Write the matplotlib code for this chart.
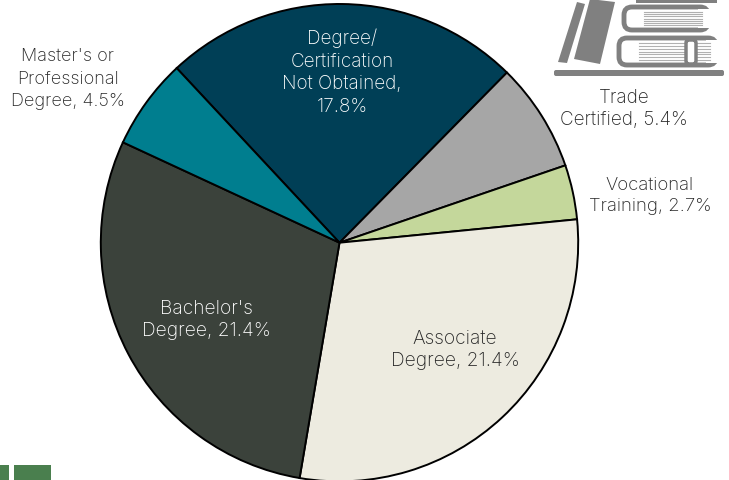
import matplotlib
matplotlib.use("Agg")
import matplotlib.pyplot as plt
from matplotlib.patches import Rectangle, FancyBboxPatch, Polygon

categories = ["Degree/\nCertification\nNot Obtained,", "Trade\nCertified,", "Vocational\nTraining,",
              "Associate\nDegree,", "Bachelor's\nDegree,", "Master's or\nProfessional\nDegree,"]
values = [17.8, 5.4, 2.7, 21.4, 21.4, 4.5]
value_breaks = ["\n", " ", " ", " ", " ", " "]
colors = ["#003F56", "#A6A6A6", "#C4D79B", "#EDEBE0", "#3B423B", "#007E8F"]
text_colors = ["#FFFFFF", "#262626", "#262626", "#262626", "#FFFFFF", "#262626"]
label_xy = [(342, 72), (624, 109), (650, 196), (455, 350), (206, 320), (68, 79)]
label_sizes = [13.6, 13.6, 13.4, 13.8, 13.8, 13.0]

plt.rcParams["font.family"] = ["Inter", "DejaVu Sans"]
fig = plt.figure(figsize=(7.29, 4.81), dpi=100)
ax = fig.add_axes([0, 0, 1, 1])
H = 481
ax.pie(values, colors=colors, center=(339.5, H - 243.7), radius=238.7, startangle=133, counterclock=False,
       wedgeprops=dict(edgecolor="black", linewidth=1.4), frame=True)
ax.set_aspect("equal")
ax.set_xlim(0, 729)
ax.set_ylim(0, H)
ax.axis("off")

for cat, v, brk, tc, (x, y), fs in zip(categories, values, value_breaks, text_colors, label_xy, label_sizes):
    ax.text(x, H - y, f"{cat}{brk}{v}%", ha="center", va="center", fontweight="light",
            fontsize=fs, color=tc, linespacing=1.32 * 13.8 / fs)

# book icon (decoration)
G = "#808080"
def R(x0, y0, x1, y1, c=G):
    ax.add_patch(Rectangle((x0, H - y1), x1 - x0, y1 - y0, fc=c, ec="none", zorder=3))
ax.add_patch(Polygon([[558, H - 63], [567, H - 64], [585, H - 5], [577, H - 3]], fc=G, ec="none", zorder=3))
ax.add_patch(Polygon([[574, H - 60], [600, H - 65], [615, H - 3], [590, H]], fc=G, ec="none", zorder=3))
ax.add_patch(FancyBboxPatch((554, H - 77), 170, 6, boxstyle="round,pad=0,rounding_size=2", fc=G, ec="none", zorder=3))

def book(x0, x1, y0, y1):
    ax.add_patch(FancyBboxPatch((x0 + 2, H - y1 + 2), x1 - x0, y1 - y0 - 4,
                 boxstyle="round,pad=0,rounding_size=8", fc="white", ec=G, lw=3.5, zorder=2))
    R(x1 - 8, y0 + 4, x1 + 8, y1 - 4, "white")
    for k in range(7):
        yy = y0 + 7 + k * (y1 - y0 - 14) / 6
        ax.plot([x0 + 22, x1 - 4], [H - yy, H - yy], color="#B0B0B0", lw=0.8, zorder=3)

book(622, 706, 6, 33)
book(617, 714, 37, 68)
R(636, 0, 717, 4)
ax.add_patch(FancyBboxPatch((686, H - 65), 10, 24, boxstyle="round,pad=0,rounding_size=3",
                            fc="white", ec=G, lw=2.5, zorder=4))
R(685, 37, 697, 42)
# footer
R(0, 466, 9, 481, "#4A7F4E")
R(14, 466, 51, 481, "#4A7F4E")
fig.savefig("out.png", dpi=100)
